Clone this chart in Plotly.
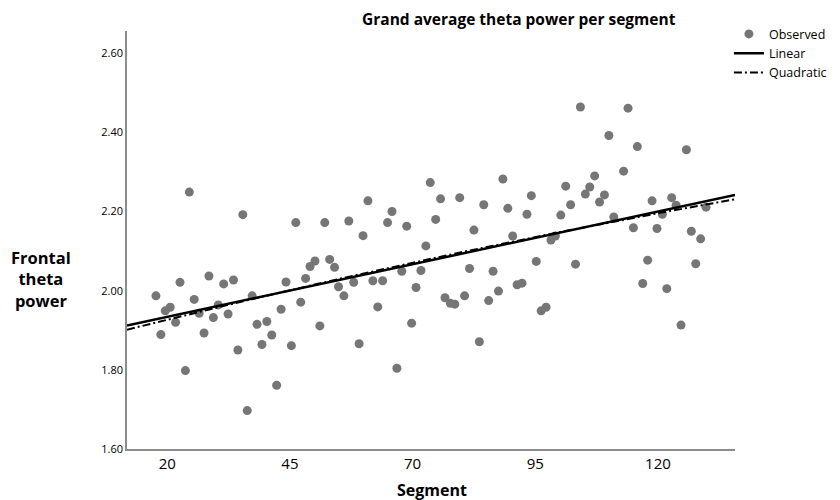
import numpy as np
import plotly.graph_objects as go

# observed grand average theta power per segment
segment = [17.7, 18.7, 19.6, 20.6, 21.7, 22.6, 23.7, 24.5, 25.5, 26.5, 27.5, 28.5, 29.4,
           30.4, 31.5, 32.4, 33.5, 34.4, 35.4, 36.3, 37.3, 38.3, 39.3,
           40.3, 41.3, 42.3, 43.2, 44.2, 45.3, 46.2, 47.2, 48.2, 49.1,
           50.1, 51.1, 52.1, 53.1, 54.1, 54.9, 56.0, 57.0, 58.0, 59.1,
           59.9, 60.9, 61.9, 62.9, 63.9, 64.9, 65.8, 66.8, 67.8, 68.8,
           69.8, 70.7, 71.7, 72.7, 73.6, 74.7, 75.7, 76.6, 77.7, 78.6,
           79.6, 80.6, 81.6, 82.5, 83.6, 84.5, 85.5, 86.4, 87.5, 88.4,
           89.4, 90.4, 91.3, 92.3, 93.3, 94.2, 95.2, 96.2, 97.2, 98.2,
           99.1, 100.2, 101.2, 102.2, 103.2, 104.2, 105.2, 106.1, 107.1, 108.1,
           109.1, 110.0, 111.0, 113.0, 113.9, 115.0, 115.8, 116.9, 117.9, 118.8,
           119.8, 120.9, 121.8, 122.8, 123.7, 124.7, 125.8, 126.8, 127.7, 128.7, 129.8]
theta = [1.987, 1.889, 1.949, 1.958, 1.920, 2.021, 1.798, 2.249, 1.978, 1.943, 1.893, 2.037, 1.932,
         1.964, 2.017, 1.941, 2.027, 1.850, 2.192, 1.697, 1.987, 1.915, 1.864,
         1.922, 1.888, 1.761, 1.953, 2.022, 1.861, 2.172, 1.971, 2.031, 2.061,
         2.075, 1.911, 2.172, 2.079, 2.059, 2.010, 1.987, 2.176, 2.021, 1.866,
         2.139, 2.227, 2.025, 1.959, 2.025, 2.172, 2.200, 1.804, 2.049, 2.163,
         1.918, 2.008, 2.051, 2.113, 2.273, 2.180, 2.232, 1.982, 1.968, 1.966,
         2.235, 1.987, 2.056, 2.153, 1.871, 2.217, 1.975, 2.049, 1.999, 2.282,
         2.208, 2.138, 2.015, 2.019, 2.193, 2.240, 2.074, 1.949, 1.958, 2.128,
         2.138, 2.191, 2.264, 2.217, 2.067, 2.464, 2.244, 2.262, 2.290, 2.224,
         2.242, 2.392, 2.186, 2.302, 2.461, 2.159, 2.364, 2.018, 2.077, 2.227,
         2.157, 2.193, 2.005, 2.235, 2.216, 1.913, 2.356, 2.150, 2.068, 2.131, 2.211]

x_ticks = [20, 45, 70, 95, 120]
y_ticks = [1.60, 1.80, 2.00, 2.20, 2.40, 2.60]
x_range = [11.8, 135.7]
y_range = [1.60, 2.656]

# curve estimation: linear and quadratic fits over the axis span
xs = np.linspace(x_range[0], x_range[1], 200)
lin = np.polyval(np.polyfit(segment, theta, 1), xs)
quad = np.polyval(np.polyfit(segment, theta, 2), xs)

FONT = "Open Sans"

fig = go.Figure()
fig.add_trace(go.Scatter(x=segment, y=theta, mode="markers", name="Observed",
                         marker=dict(color="#767676", size=9)))
fig.add_trace(go.Scatter(x=xs, y=lin, mode="lines", name="Linear",
                         line=dict(color="black", width=2.5)))
fig.add_trace(go.Scatter(x=xs, y=quad, mode="lines", name="Quadratic",
                         line=dict(color="black", width=2, dash="8px,3px,2px,3px")))

# the page body adds an 8px offset, so margins are set 8px short on left/top
fig.update_layout(
    width=840, height=500,
    margin=dict(l=119, r=113, t=23, b=59, autoexpand=False),
    plot_bgcolor="white", paper_bgcolor="white",
    font=dict(family=FONT, color="black"),
    title=dict(text="<b>Grand average theta power per segment</b>",
               x=0.608, xanchor="center", y=0.976, yanchor="middle",
               font=dict(size=15.5, family=FONT)),
    legend=dict(x=0.99, xanchor="left", y=1.028, yanchor="top",
                bgcolor="rgba(0,0,0,0)", font=dict(size=12.5, family=FONT),
                tracegroupgap=0, itemwidth=30, borderwidth=0),
    showlegend=True,
)
fig.update_xaxes(range=x_range, tickvals=x_ticks, showgrid=False, zeroline=False,
                 showline=True, linecolor="#8c8c8c", linewidth=1.5,
                 tickfont=dict(size=15, family=FONT))
fig.update_yaxes(range=y_range, tickvals=y_ticks, tickformat=".2f", showgrid=False,
                 zeroline=False, showline=True, linecolor="#8c8c8c", linewidth=1.5,
                 tickfont=dict(size=11, family=FONT))

fig.add_annotation(text="<b>Frontal<br>theta<br>power</b>", xref="paper", yref="paper",
                   x=-0.1414, y=0.4067, xanchor="center", yanchor="middle",
                   showarrow=False, font=dict(size=16.5, family=FONT))
fig.add_annotation(text="<b>Segment</b>", xref="paper", yref="paper",
                   x=0.5016, y=-0.098, xanchor="center", yanchor="middle",
                   showarrow=False, font=dict(size=16, family=FONT))

fig.write_html("out.html")
